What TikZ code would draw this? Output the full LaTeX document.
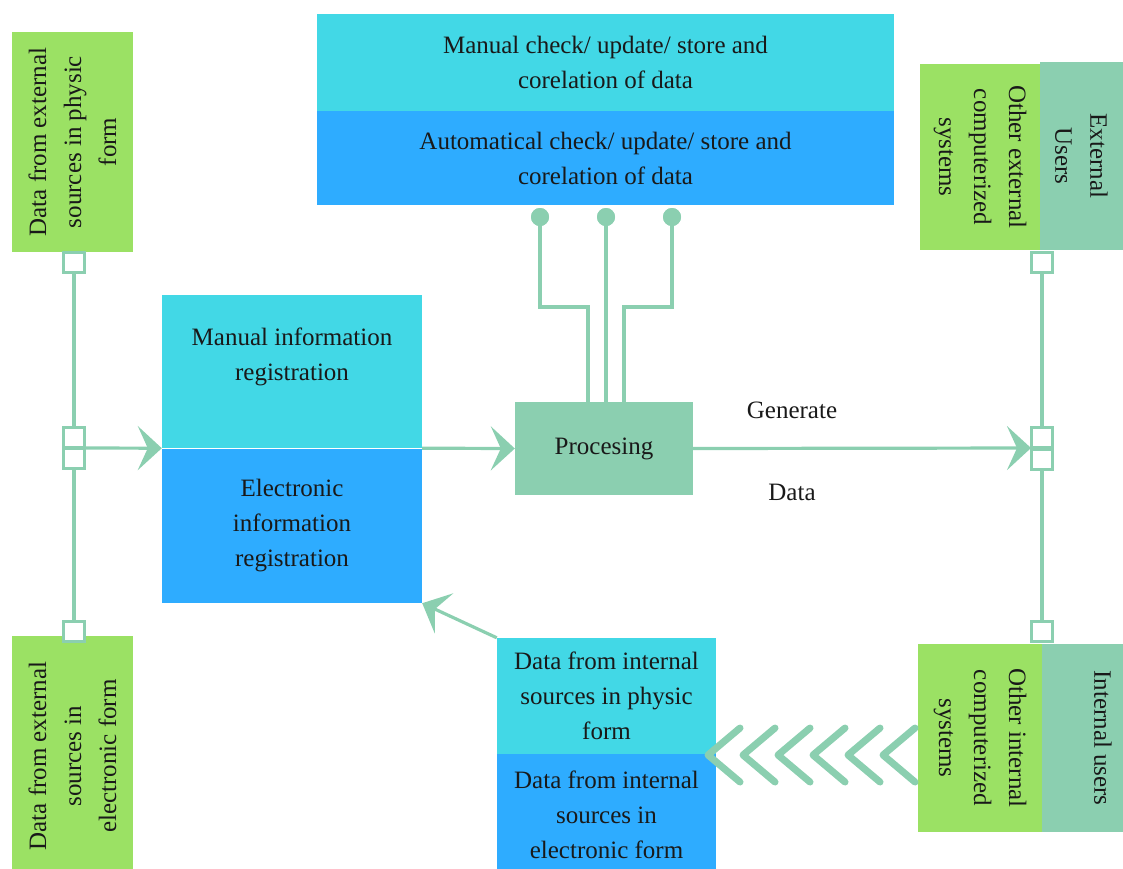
\documentclass[tikz,border=0pt]{standalone}
\usepackage{fontspec}
\setmainfont{LiberationSerif}[Extension=.ttf, UprightFont=*-Regular]
\usetikzlibrary{arrows.meta}
\definecolor{cg}{RGB}{155,225,100}
\definecolor{cc}{RGB}{66,216,230}
\definecolor{cb}{RGB}{46,172,255}
\definecolor{cs}{RGB}{139,207,176}
\definecolor{ct}{RGB}{25,25,25}
\tikzset{
  box/.style={inner sep=0pt, align=center, text=ct, font=\fontsize{25}{35}\selectfont},
  sq/.style={draw=cs, line width=3pt, fill=white, minimum width=21pt, minimum height=20pt, inner sep=0pt},
  conn/.style={draw=cs, line width=3.2pt},
  arr/.style={draw=cs, line width=3.2pt, -{Stealth[length=24pt, width=44pt, inset=10pt]}},
  dot/.style={circle, fill=cs, minimum size=18pt, inner sep=0pt},
  chev/.style={draw=cs, line width=7pt, line cap=round, line join=round},
  lbl/.style={text=ct, font=\fontsize{25}{35}\selectfont, inner sep=0pt}
}
\begin{document}
\begin{tikzpicture}[x=1pt,y=-1pt]
\useasboundingbox (0,0) rectangle (1123,868);
% top centre boxes
\node[box, fill=cc, minimum width=577pt, minimum height=97pt] (mc) at (605.5,62.5) {Manual check/ update/ store and\\corelation of data};
\node[box, fill=cb, minimum width=577pt, minimum height=94pt] (ac) at (605.5,158) {Automatical check/ update/ store and\\corelation of data};
% left external sources
\node[box, fill=cg, rotate=90, minimum width=220pt, minimum height=121pt] (tl) at (72.5,142) {Data from external\\sources in physic\\form};
\node[box, fill=cg, rotate=90, minimum width=240pt, minimum height=121pt] (bl) at (72.5,756) {Data from external\\sources in\\electronic form};
% registration boxes
\node[box, fill=cc, minimum width=260pt, minimum height=153pt] (mir) at (292,371.5) {};
\node[lbl, align=center] (mirt) at (292,357) {Manual information\\registration};
\node[box, fill=cb, minimum width=260pt, minimum height=154pt] (eir) at (292,526) {Electronic\\information\\registration};
% processing
\node[box, fill=cs, minimum width=178pt, minimum height=93pt] (proc) at (604,448.5) {Procesing};
% right top
\node[box, fill=cg, rotate=-90, minimum width=186pt, minimum height=120pt] (oes) at (980,157) {Other external\\computerized\\systems};
\node[box, fill=cs, rotate=-90, minimum width=188pt, minimum height=83pt] (eu) at (1081.5,156) {External\\Users};
% right bottom
\node[box, fill=cg, rotate=-90, minimum width=188pt, minimum height=124pt] (ois) at (980,738) {Other internal\\computerized\\systems};
\node[box, fill=cs, rotate=-90, minimum width=188pt, minimum height=81pt] (iu) at (1082.5,738) {};
\node[lbl, rotate=-90] (iut) at (1103,738) {Internal users};
% internal sources
\node[box, fill=cc, minimum width=219pt, minimum height=116pt] (pint) at (606.5,696) {Data from internal\\sources in physic\\form};
\node[box, fill=cb, minimum width=219pt, minimum height=122pt] (dint) at (606.5,815) {Data from internal\\sources in\\electronic form};
% squares left
\node[sq] (s1) at (74,262) {};
\node[sq] (s2) at (74,437) {};
\node[sq] (s3) at (74,458) {};
\node[sq] (s4) at (74,631) {};
% squares right
\node[sq] (r1) at (1042,262) {};
\node[sq] (r2) at (1042,437) {};
\node[sq] (r3) at (1042,459) {};
\node[sq] (r4) at (1042,631) {};
\draw[conn] (s1) -- (s2);
\draw[conn] (s3) -- (s4);
\draw[conn] (r1) -- (r2);
\draw[conn] (r3) -- (r4);
\coordinate (sj) at (85,448);
\coordinate (rj) at (1031,448);
\draw[arr] (sj) -- (mir.south west);
\draw[arr] (mir.south east) -- (proc.west);
\draw[arr] (proc.east) -- (rj);
\draw[arr] (pint.north west) -- (eir.south east);
% labels
\node[lbl] (gen) at (792,410) {Generate};
\node[lbl] (dat) at (792,492) {Data};
% tree lines to processing
\node[dot] (d1) at (540,217) {};
\node[dot] (d2) at (606,217) {};
\node[dot] (d3) at (672,217) {};
\coordinate (k1) at (588,307);
\coordinate (k3) at (624,307);
\draw[conn] (d1.center) |- (k1) -- (k1 |- proc.north);
\draw[conn] (d2.center) -- (d2 |- proc.north);
\draw[conn] (d3.center) |- (k3) -- (k3 |- proc.north);
\node[dot] at (d1) {};
\node[dot] at (d2) {};
\node[dot] at (d3) {};
% chevrons
\foreach \x in {708,743,778,813,848,883}
  \draw[chev] (\x+32,728) -- (\x,755) -- (\x+32,782);
\end{tikzpicture}
\end{document}
